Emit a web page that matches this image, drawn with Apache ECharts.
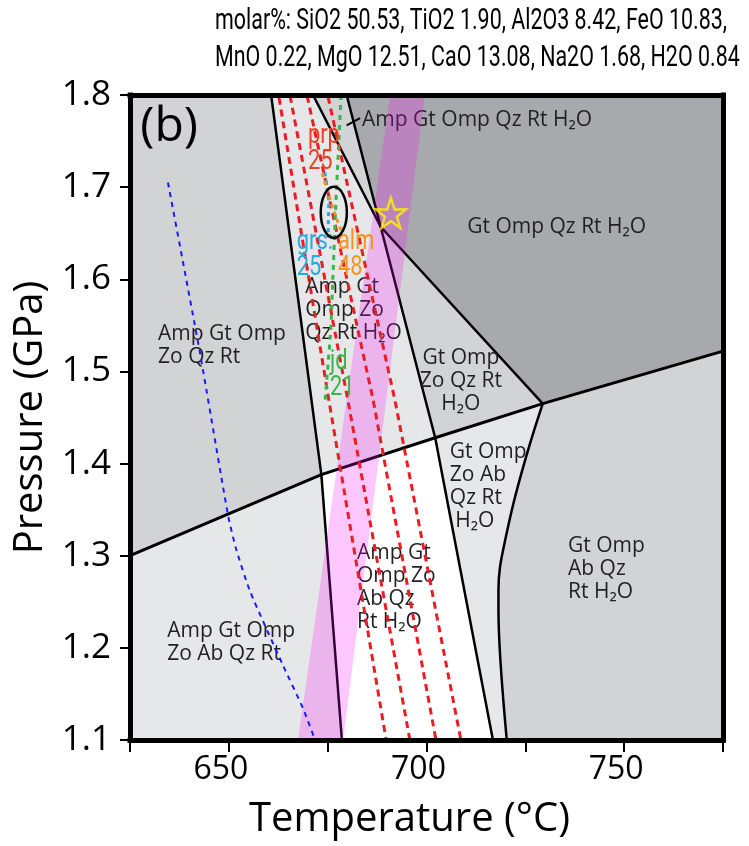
<!DOCTYPE html>
<html>
<head>
<meta charset="utf-8">
<script src="https://cdn.jsdelivr.net/npm/echarts@6/dist/echarts.min.js"></script>
<style>
  html, body { margin: 0; padding: 0; background: #fff; }
  #main { width: 749px; height: 846px; }
</style>
</head>
<body>
<div id="main"></div>
<script>
// T (°C), P (GPa)

// 相场（多边形顶点）
var fieldAmpGtOmpZoQzRt     = [[625, 1.8], [660.7, 1.8], [673.4, 1.388], [625, 1.30]];
var fieldAmpGtOmpZoQzRtH2O  = [[660.7, 1.8], [671.3, 1.8], [688.4, 1.657], [702.2, 1.428], [673.4, 1.388]];
var fieldAmpGtOmpQzRtH2O    = [[671.3, 1.8], [679.8, 1.8], [688.4, 1.657]];
var fieldGtOmpQzRtH2O       = [[679.8, 1.8], [775, 1.8], [775, 1.522], [729.4, 1.465], [688.4, 1.657]];
var fieldGtOmpZoQzRtH2O     = [[688.4, 1.657], [729.4, 1.465], [702.2, 1.428]];
var fieldAmpGtOmpZoAbQzRt   = [[625, 1.30], [673.4, 1.388], [678.6, 1.1], [625, 1.1]];
var fieldAmpGtOmpZoAbQzRtH2O = [[673.4, 1.388], [702.2, 1.428], [716.8, 1.1], [678.6, 1.1]];
var fieldGtOmpZoAbQzRtH2O   = [[702.2, 1.428], [729.4, 1.465], [727.0, 1.433], [724.5, 1.397], [722.0, 1.357],
                               [719.9, 1.317], [718.6, 1.288], [718.2, 1.263], [718.2, 1.241], [720.3, 1.1], [716.8, 1.1]];
var fieldGtOmpAbQzRtH2O     = [[729.4, 1.465], [775, 1.522], [775, 1.1], [720.3, 1.1], [718.2, 1.241], [718.2, 1.263],
                               [718.6, 1.288], [719.9, 1.317], [722.0, 1.357], [724.5, 1.397], [727.0, 1.433]];

// 相界线
var lineLeft   = [[660.7, 1.8], [673.4, 1.388], [678.6, 1.1]];
var lineMid    = [[671.3, 1.8], [688.4, 1.657], [729.4, 1.465]];
var lineRight  = [[679.8, 1.8], [688.4, 1.657], [702.2, 1.428], [716.8, 1.1]];
var lineAb     = [[625, 1.30], [673.4, 1.388], [702.2, 1.428], [729.4, 1.465], [775, 1.522]];
var lineCurve  = [[729.4, 1.465], [727.0, 1.433], [724.5, 1.397], [722.0, 1.357], [719.9, 1.317],
                  [718.6, 1.288], [718.2, 1.263], [718.2, 1.241], [720.3, 1.1]];
var lineLeader = [[679.8, 1.767], [683.2, 1.775]];

// 粉色带
var pinkBand = [[667.5, 1.1], [678.9, 1.1], [699.6, 1.8], [690.8, 1.8]];

// 等值线
var prpA = [[662.7, 1.797], [675.3, 1.469], [689.8, 1.1]];
var prpB = [[665.5, 1.799], [680.1, 1.469], [695.8, 1.1]];
var prpC = [[669.8, 1.799], [686.5, 1.469], [702.4, 1.1]];
var prpD = [[675.1, 1.798], [692.0, 1.469], [708.7, 1.1]];
var blueLeft = [[634.6, 1.705], [642.7, 1.520], [649.8, 1.344], [651.8, 1.308], [655.4, 1.261],
                [663.7, 1.181], [668.8, 1.134], [671.8, 1.1]];
var jdLine  = [[678.4, 1.8], [677.1, 1.686], [675.8, 1.545], [674.3, 1.466]];
var grsLine = [[674.3, 1.716], [675.3, 1.686], [675.1, 1.645]];
var almLine = [[673.6, 1.715], [675.3, 1.691], [677.4, 1.664], [678.4, 1.653]];

// 椭圆、星
var ellipseC = [676.55, 1.6726];
var ellipseR = [3.3, 0.0277];
var starAt = [[691.0, 1.672]];

// 文字
var fieldNames = ['Amp Gt Omp\nZo Qz Rt', 'Amp Gt\nOmp Zo\nQz Rt H₂O', 'Amp Gt Omp Qz Rt H₂O', 'Gt Omp Qz Rt H₂O',
                  'Gt Omp\nZo Qz Rt\nH₂O', 'Amp Gt Omp\nZo Ab Qz Rt', 'Amp Gt\nOmp Zo\nAb Qz\nRt H₂O',
                  'Gt Omp\nZo Ab\nQz Rt\n H₂O', 'Gt Omp\nAb Qz\nRt H₂O'];
var fieldLabelAt = [[632.1, 1.541], [669.3, 1.592], [683.7, 1.773], [710.3, 1.657], [708.7, 1.515],
                    [634.4, 1.218], [682.4, 1.303], [705.9, 1.413], [735.8, 1.310]];
var isoNames = ['prp\n25', 'grs:\n25', 'alm\n48', 'jd\n21'];
var isoLabelAt = [[670.0, 1.7555], [667.2, 1.6405], [677.6, 1.6405], [675.6, 1.5102]];
var panelLabel = ['(b)'];
var panelLabelAt = [[627.6, 1.765]];

var titleLines = ['molar%: SiO2 50.53, TiO2 1.90, Al2O3 8.42, FeO 10.83,',
                  'MnO 0.22, MgO 12.51, CaO 13.08, Na2O 1.68, H2O 0.84'];

// 样式
var fields = [fieldAmpGtOmpZoQzRt, fieldAmpGtOmpZoQzRtH2O, fieldAmpGtOmpQzRtH2O, fieldGtOmpQzRtH2O,
              fieldGtOmpZoQzRtH2O, fieldAmpGtOmpZoAbQzRt, fieldAmpGtOmpZoAbQzRtH2O, fieldGtOmpZoAbQzRtH2O, fieldGtOmpAbQzRtH2O];
var fieldFill = ['#d1d3d4', '#e6e7e8', '#d1d3d4', '#a7a9ac', '#d1d3d4', '#e6e7e8', '#ffffff', '#e6e7e8', '#d1d3d4'];
var fieldAlign = ['left', 'left', 'left', 'left', 'center', 'left', 'left', 'left', 'left'];
var isoColor = ['#ee3f23', '#27aae1', '#f7941d', '#39b54a'];

var FONT = 'Open Sans';
var COND = 'Roboto';

// 标题宽度：压窄字体
var ctx = document.createElement('canvas').getContext('2d');
ctx.font = '29px ' + COND;
var titleScale = 512 / ctx.measureText(titleLines[0]).width;

var myChart = echarts.init(document.getElementById('main'));

function polySeries(polys, fills, z) {
  return {
    type: 'custom', z: z, silent: true,
    data: polys.map(function (p) { return p[0]; }),
    renderItem: function (params, api) {
      var pts = polys[params.dataIndex].map(function (p) { return api.coord(p); });
      return { type: 'polygon', shape: { points: pts }, style: { fill: fills[params.dataIndex] } };
    }
  };
}

function textSeries(texts, at, opt, z) {
  return {
    type: 'custom', z: z, silent: true,
    data: at,
    renderItem: function (params, api) {
      var i = params.dataIndex;
      var c = api.coord(at[i]);
      return {
        type: 'text', x: c[0], y: c[1] - opt.lh / 2, scaleX: opt.sx || 1,
        style: {
          text: texts[i], fill: Array.isArray(opt.color) ? opt.color[i] : opt.color,
          fontSize: opt.size, fontFamily: opt.family, lineHeight: opt.lh,
          align: opt.align ? opt.align[i] : 'left', verticalAlign: 'top'
        }
      };
    }
  };
}

function lineSeries(data, color, width, dash, z, smooth) {
  return {
    type: 'line', data: data, z: z, silent: true, showSymbol: false, symbol: 'none',
    smooth: smooth || false,
    lineStyle: { color: color, width: width, type: dash || 'solid' }
  };
}

var red = '#ed1c24';
var dash = [7, 5];

option = {
  animation: false,
  backgroundColor: '#fff',
  graphic: [{
    type: 'text', x: 215, y: 3, scaleX: titleScale,
    style: { text: titleLines.join('\n'), fontFamily: COND, fontSize: 29, lineHeight: 37, fill: '#000' }
  }],
  grid: { left: 130, top: 95, width: 593, height: 645 },
  xAxis: [{
    type: 'value', min: 625, max: 775, interval: 25, position: 'bottom', z: 10,
    name: 'Temperature (°C)', nameLocation: 'middle', nameGap: 60,
    nameTextStyle: { fontFamily: FONT, fontSize: 40, color: '#000', padding: [0, 34, 0, 0] },
    axisLine: { show: true, onZero: false, lineStyle: { color: '#000', width: 5, cap: 'square' } },
    axisTick: { show: true, length: 12, lineStyle: { color: '#000', width: 2 } },
    axisLabel: {
      fontFamily: FONT, fontSize: 32, color: '#000', margin: 14, padding: [0, 16, 0, 0],
      formatter: function (v) { return v % 50 === 0 ? String(v) : ''; }
    },
    splitLine: { show: false }
  }, {
    type: 'value', min: 625, max: 775, position: 'top', z: 10,
    axisLine: { show: true, onZero: false, lineStyle: { color: '#000', width: 5, cap: 'square' } },
    axisTick: { show: false }, axisLabel: { show: false }, splitLine: { show: false }
  }],
  yAxis: [{
    type: 'value', min: 1.1, max: 1.8, interval: 0.1, position: 'left', z: 10,
    name: 'Pressure (GPa)', nameLocation: 'middle', nameGap: 72, nameRotate: 90,
    nameTextStyle: { fontFamily: FONT, fontSize: 40, color: '#000' },
    axisLine: { show: true, onZero: false, lineStyle: { color: '#000', width: 5, cap: 'square' } },
    axisTick: { show: true, length: 10, lineStyle: { color: '#000', width: 2 } },
    axisLabel: {
      fontFamily: FONT, fontSize: 35, color: '#000', margin: 19,
      formatter: function (v) { return v.toFixed(1); }
    },
    splitLine: { show: false }
  }, {
    type: 'value', min: 1.1, max: 1.8, position: 'right', z: 10,
    axisLine: { show: true, onZero: false, lineStyle: { color: '#000', width: 5, cap: 'square' } },
    axisTick: { show: false }, axisLabel: { show: false }, splitLine: { show: false }
  }],
  series: [
    polySeries(fields, fieldFill, 1),
    lineSeries(lineLeft, '#000', 2.5, null, 2),
    lineSeries(lineMid, '#000', 2.5, null, 2),
    lineSeries(lineRight, '#000', 2.5, null, 2),
    lineSeries(lineAb, '#000', 3, null, 2),
    lineSeries(lineCurve, '#000', 2.5, null, 2, 0.3),
    lineSeries(lineLeader, '#000', 2, null, 2),
    textSeries(fieldNames, fieldLabelAt, { size: 21, family: FONT, lh: 23, color: '#231f20', align: fieldAlign }, 3),
    polySeries([pinkBand], ['rgba(255,0,255,0.22)'], 4),
    lineSeries(prpA, red, 3, dash, 5),
    lineSeries(prpB, red, 3, dash, 5),
    lineSeries(prpC, red, 3, dash, 5),
    lineSeries(prpD, red, 3, dash, 5),
    lineSeries(blueLeft, '#1a1aff', 2, [5, 5], 5, 0.2),
    lineSeries(jdLine, '#39b54a', 3, [5, 5], 5),
    lineSeries(grsLine, '#27aae1', 3, [4, 4], 5),
    lineSeries(almLine, '#f7941d', 3, [4, 4], 5),
    textSeries(isoNames, isoLabelAt, { size: 28, family: COND, lh: 26, color: isoColor, sx: 0.78 }, 6),
    textSeries(panelLabel, panelLabelAt, { size: 48, family: FONT, lh: 50, color: '#000' }, 6),
    {
      type: 'custom', z: 7, silent: true, data: [ellipseC],
      renderItem: function (params, api) {
        var c = api.coord(ellipseC);
        var s = api.size(ellipseR);
        return { type: 'ellipse', shape: { cx: c[0], cy: c[1], rx: s[0], ry: s[1] },
                 style: { fill: null, stroke: '#000', lineWidth: 2.5 } };
      }
    },
    {
      type: 'scatter', z: 8, silent: true, data: starAt,
      symbol: 'path://M50,0 L61.8,35.1 L97.6,34.5 L69.1,56.7 L79.4,90.5 L50,70 L20.6,90.5 L30.9,56.7 L2.4,34.5 L38.2,35.1 Z',
      symbolSize: 30,
      itemStyle: { color: 'rgba(0,0,0,0)', borderColor: '#fff200', borderWidth: 2.5 }
    }
  ]
};
myChart.setOption(option);
</script>
</body>
</html>
